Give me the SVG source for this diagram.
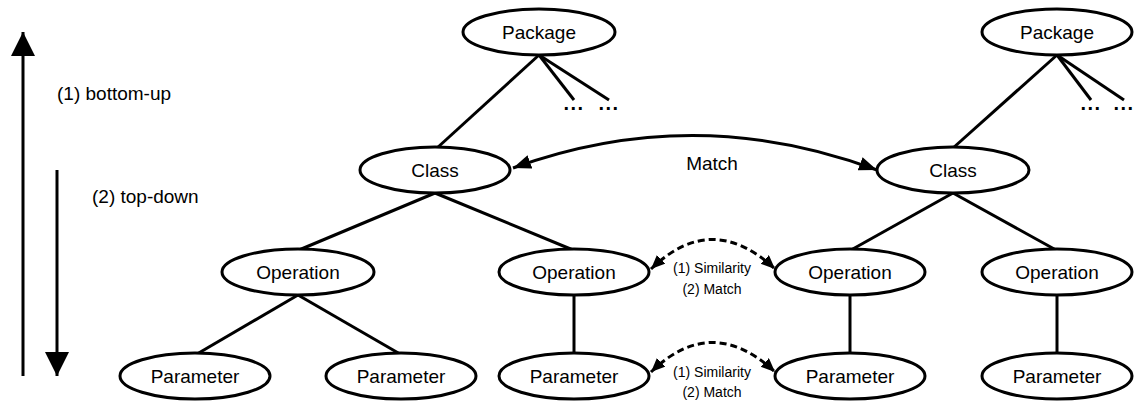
<svg xmlns="http://www.w3.org/2000/svg" width="1134" height="401" viewBox="0 0 1134 401">
  <style>
    .node ellipse { fill: #ffffff; stroke: #000000; stroke-width: 3; }
    .node text, .label { font-family: "Liberation Sans", Arial, sans-serif; font-size: 19px; fill: #000000; text-anchor: middle; }
    .small { font-family: "Liberation Sans", Arial, sans-serif; font-size: 14px; fill: #000000; text-anchor: middle; }
    .edge { stroke: #000000; stroke-width: 3; fill: none; }
    .dash { stroke: #000000; stroke-width: 3; fill: none; stroke-dasharray: 7 4; }
    .dots { font-family: "Liberation Sans", Arial, sans-serif; font-size: 20px; font-weight: bold; fill: #000000; text-anchor: middle; letter-spacing: 1.5px; }
  </style>
  <defs>
    <marker id="headLarge" markerUnits="userSpaceOnUse" markerWidth="26" markerHeight="26" refX="24" refY="12" orient="auto-start-reverse">
      <path d="M0,0 L24,12 L0,24 z" fill="#000000"/>
    </marker>
    <marker id="headMid" markerUnits="userSpaceOnUse" markerWidth="20" markerHeight="16" refX="18" refY="7" orient="auto-start-reverse">
      <path d="M0,0 L18,7 L0,14 z" fill="#000000"/>
    </marker>
    <marker id="headSmall" markerUnits="userSpaceOnUse" markerWidth="16" markerHeight="14" refX="14" refY="6" orient="auto-start-reverse">
      <path d="M0,0 L14,6 L0,12 z" fill="#000000"/>
    </marker>
  </defs>

  <!-- tree edges -->
  <g id="connectors">
    <line class="edge" x1="539" y1="55" x2="437" y2="148"/>
    <line class="edge" x1="539" y1="55" x2="574" y2="100"/>
    <line class="edge" x1="539" y1="55" x2="609" y2="100"/>
    <line class="edge" x1="1057" y1="55" x2="953" y2="148"/>
    <line class="edge" x1="1057" y1="55" x2="1091" y2="100"/>
    <line class="edge" x1="1057" y1="55" x2="1124" y2="100"/>

    <line class="edge" x1="435" y1="193" x2="299" y2="250"/>
    <line class="edge" x1="435" y1="193" x2="573" y2="250"/>
    <line class="edge" x1="953" y1="193" x2="851" y2="250"/>
    <line class="edge" x1="953" y1="193" x2="1056" y2="250"/>

    <line class="edge" x1="298" y1="295" x2="197" y2="354"/>
    <line class="edge" x1="298" y1="295" x2="400" y2="354"/>
    <line class="edge" x1="574" y1="295" x2="574" y2="353"/>
    <line class="edge" x1="850" y1="295" x2="850" y2="353"/>
    <line class="edge" x1="1057" y1="295" x2="1057" y2="353"/>

    <!-- correspondences between the two trees -->
    <path class="edge" d="M513,168 Q695,102 877,170" marker-start="url(#headMid)" marker-end="url(#headMid)"/>
    <path class="dash" d="M651,269 Q712,210 775,269" marker-start="url(#headSmall)" marker-end="url(#headSmall)"/>
    <path class="dash" d="M651,372 Q712,313 775,372" marker-start="url(#headSmall)" marker-end="url(#headSmall)"/>

    <!-- traversal direction arrows -->
    <line class="edge" x1="23" y1="376" x2="23" y2="32" marker-end="url(#headLarge)"/>
    <line class="edge" x1="57" y1="170" x2="57" y2="376" marker-end="url(#headLarge)"/>
  </g>

  <!-- ellipsis for omitted children -->
  <text class="dots" x="574" y="110">...</text>
  <text class="dots" x="609" y="110">...</text>
  <text class="dots" x="1091" y="110">...</text>
  <text class="dots" x="1124" y="110">...</text>

  <!-- nodes -->
  <g id="package-left" class="node"><ellipse cx="539" cy="32" rx="76" ry="23"/><text x="539" y="39">Package</text></g>
  <g id="package-right" class="node"><ellipse cx="1057" cy="32" rx="75" ry="23"/><text x="1057" y="39">Package</text></g>
  <g id="class-left" class="node"><ellipse cx="435" cy="170" rx="75" ry="23"/><text x="435" y="177">Class</text></g>
  <g id="class-right" class="node"><ellipse cx="953" cy="170" rx="76" ry="23"/><text x="953" y="177">Class</text></g>
  <g id="op-1" class="node"><ellipse cx="298" cy="272" rx="76" ry="23"/><text x="298" y="279">Operation</text></g>
  <g id="op-2" class="node"><ellipse cx="574" cy="272" rx="75" ry="23"/><text x="574" y="279">Operation</text></g>
  <g id="op-3" class="node"><ellipse cx="850" cy="272" rx="75" ry="23"/><text x="850" y="279">Operation</text></g>
  <g id="op-4" class="node"><ellipse cx="1057" cy="272" rx="75" ry="23"/><text x="1057" y="279">Operation</text></g>
  <g id="param-1" class="node"><ellipse cx="195" cy="376" rx="75" ry="23"/><text x="195" y="383">Parameter</text></g>
  <g id="param-2" class="node"><ellipse cx="401" cy="376" rx="75" ry="23"/><text x="401" y="383">Parameter</text></g>
  <g id="param-3" class="node"><ellipse cx="574" cy="376" rx="75" ry="23"/><text x="574" y="383">Parameter</text></g>
  <g id="param-4" class="node"><ellipse cx="850" cy="376" rx="75" ry="23"/><text x="850" y="383">Parameter</text></g>
  <g id="param-5" class="node"><ellipse cx="1057" cy="376" rx="75" ry="23"/><text x="1057" y="383">Parameter</text></g>

  <!-- labels -->
  <text class="label" x="712" y="170">Match</text>
  <text class="small" x="712" y="273">(1) Similarity</text>
  <text class="small" x="712" y="294">(2) Match</text>
  <text class="small" x="712" y="377">(1) Similarity</text>
  <text class="small" x="712" y="397">(2) Match</text>
  <text class="label" x="57" y="100" style="text-anchor:start">(1) bottom-up</text>
  <text class="label" x="92" y="203" style="text-anchor:start">(2) top-down</text>
</svg>
